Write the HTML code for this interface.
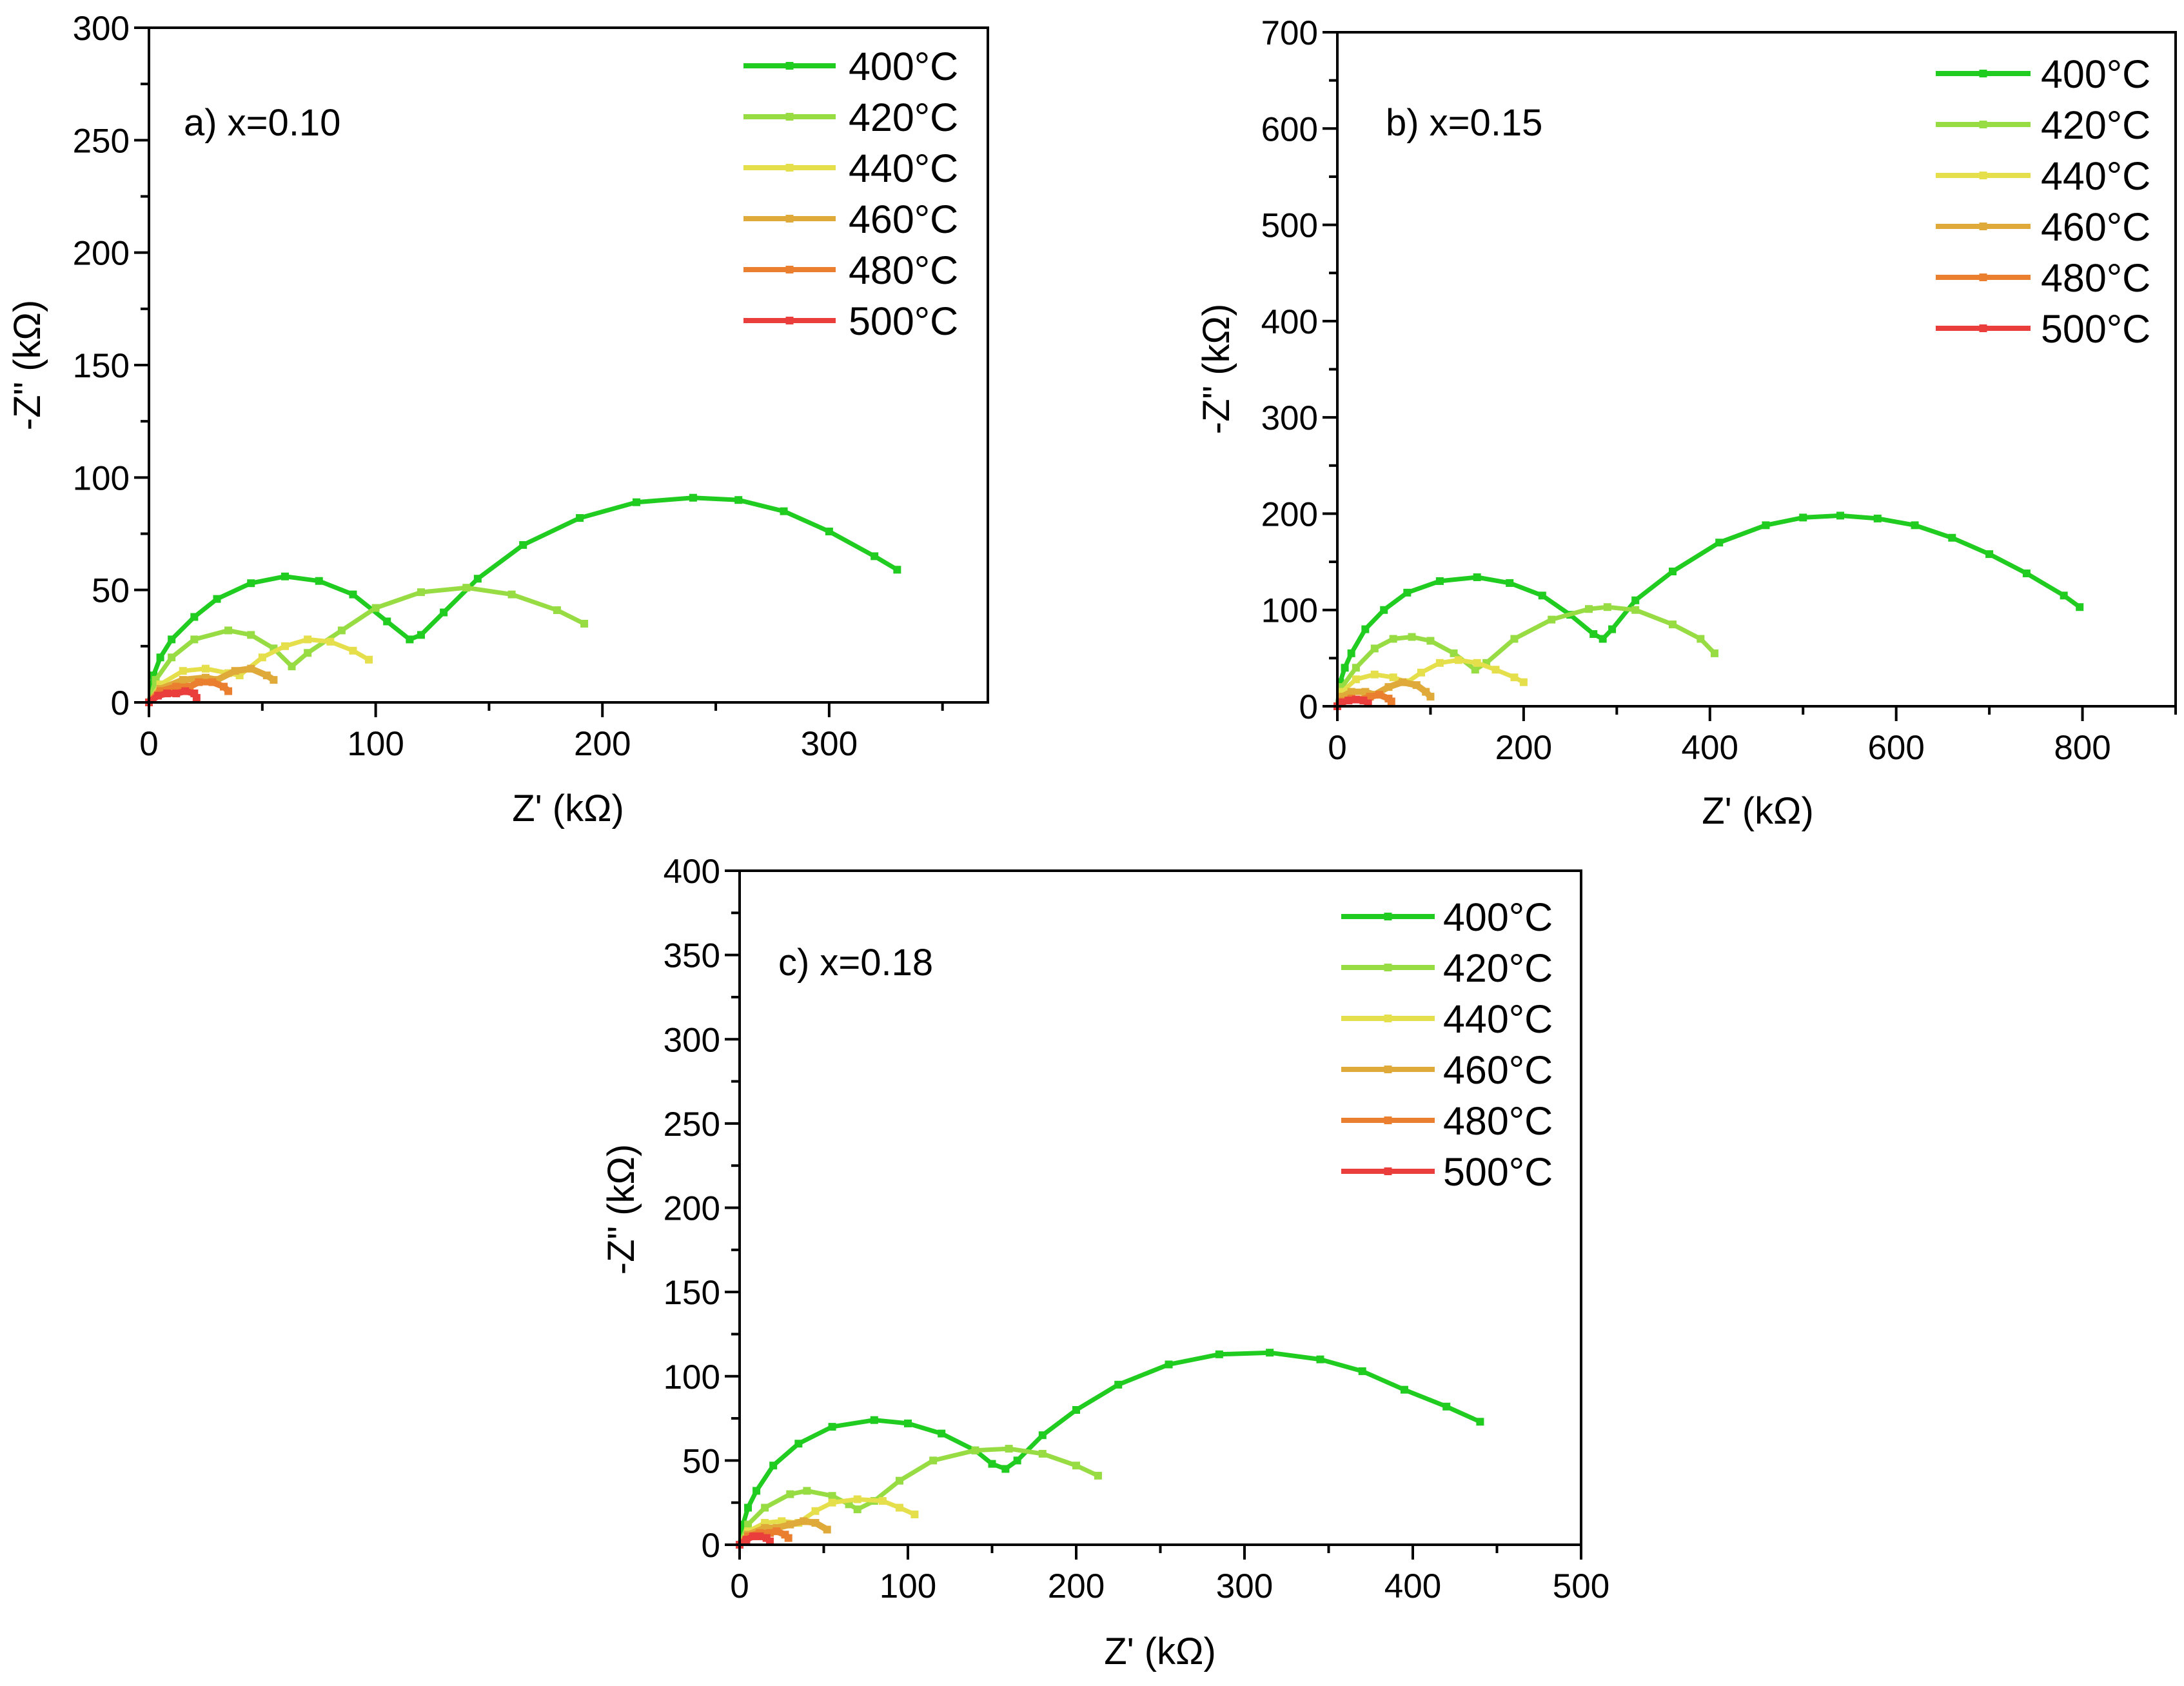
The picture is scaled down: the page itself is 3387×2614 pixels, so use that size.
<!DOCTYPE html>
<html><head><meta charset="utf-8">
<style>
html,body{margin:0;padding:0;background:#fff;}
svg{display:block;font-family:"Liberation Sans",Arial,sans-serif;}
</style></head>
<body>
<svg id="fig" width="3387" height="2614" viewBox="0 0 3387 2614" xmlns="http://www.w3.org/2000/svg"></svg>
<script>
const seriesLabels = ["400°C","420°C","440°C","460°C","480°C","500°C"];
const seriesColors = ["#1fcc1f","#98dc44","#e6df4c","#e0aa3a","#ea7f30","#ea3e3c"];

// Panel a) x=0.10
const a400x=[0,2,5,10,20,30,45,60,75,90,105,115,120,130,145,165,190,215,240,260,280,300,320,330];
const a400y=[0,12,20,28,38,46,53,56,54,48,36,28,30,40,55,70,82,89,91,90,85,76,65,59];
const a420x=[0,3,10,20,35,45,55,63,70,85,100,120,140,160,180,192];
const a420y=[0,10,20,28,32,30,24,16,22,32,42,49,51,48,41,35];
const a440x=[0,5,15,25,35,40,50,60,70,80,90,97];
const a440y=[0,8,14,15,13,12,20,25,28,27,23,19];
const a460x=[0,5,15,25,30,38,45,52,55];
const a460y=[0,6,10,11,10,14,15,12,10];
const a480x=[0,5,12,18,22,28,33,35];
const a480y=[0,5,7,7,9,9,7,5];
const a500x=[0,4,8,12,16,20,21];
const a500y=[0,3,4,4,5,4,2];

// Panel b) x=0.15
const b400x=[0,3,8,15,30,50,75,110,150,185,220,250,275,285,295,320,360,410,460,500,540,580,620,660,700,740,780,797];
const b400y=[0,25,40,55,80,100,118,130,134,128,115,95,75,70,80,110,140,170,188,196,198,195,188,175,158,138,115,103];
const b420x=[0,5,20,40,60,80,100,125,148,160,190,230,270,290,320,360,390,405];
const b420y=[0,20,40,60,70,72,68,55,38,45,70,90,101,103,100,85,70,55];
const b440x=[0,5,20,40,60,75,90,110,130,150,170,190,200];
const b440y=[0,15,28,33,30,25,35,45,48,45,38,30,25];
const b460x=[0,5,15,30,40,55,70,85,95,100];
const b460y=[0,10,15,15,12,20,25,22,15,10];
const b480x=[0,5,15,25,35,45,55,58];
const b480y=[0,5,8,7,10,12,8,5];
const b500x=[0,5,12,20,28,33];
const b500y=[0,4,6,7,6,3];

// Panel c) x=0.18
const c400x=[0,2,5,10,20,35,55,80,100,120,140,150,158,165,180,200,225,255,285,315,345,370,395,420,440];
const c400y=[0,12,22,32,47,60,70,74,72,66,56,48,45,50,65,80,95,107,113,114,110,103,92,82,73];
const c420x=[0,5,15,30,40,55,65,70,80,95,115,140,160,180,200,213];
const c420y=[0,12,22,30,32,29,24,21,26,38,50,56,57,54,47,41];
const c440x=[0,5,15,25,35,45,55,70,85,95,104];
const c440y=[0,8,13,14,13,20,25,27,26,22,18];
const c460x=[0,5,15,22,30,38,45,52];
const c460y=[0,6,10,10,12,14,13,9];
const c480x=[0,5,12,18,22,27,29];
const c480y=[0,5,7,7,8,6,4];
const c500x=[0,4,8,12,16,18];
const c500y=[0,3,5,5,4,2];

const aXTicks=[0,100,200,300], aYTicks=[0,50,100,150,200,250,300];
const bXTicks=[0,200,400,600,800], bYTicks=[0,100,200,300,400,500,600,700];
const cXTicks=[0,100,200,300,400,500], cYTicks=[0,50,100,150,200,250,300,350,400];

const NS="http://www.w3.org/2000/svg";
const svg=document.getElementById('fig');
function mk(tag,attrs,parent){const e=document.createElementNS(NS,tag);for(const k in attrs)e.setAttribute(k,attrs[k]);(parent||svg).appendChild(e);return e;}

const panels=[
 {id:'a',label:'a) x=0.10',L:231,R:1532,T:43,B:1089,xmax:370,ymax:300,xt:aXTicks,yt:aYTicks,xminor:50,yminor:25,
  xs:[a400x,a420x,a440x,a460x,a480x,a500x],ys:[a400y,a420y,a440y,a460y,a480y,a500y],
  lab:[285,190],xtitle:[881,1253],ytitle:[42,566],leg:[1153,1296,102,1316]},
 {id:'b',label:'b) x=0.15',L:2074,R:3374,T:50,B:1095,xmax:900,ymax:700,xt:bXTicks,yt:bYTicks,xminor:100,yminor:50,
  xs:[b400x,b420x,b440x,b460x,b480x,b500x],ys:[b400y,b420y,b440y,b460y,b480y,b500y],
  lab:[2149,190],xtitle:[2726,1257],ytitle:[1886,572],leg:[3002,3149,114,3165]},
 {id:'c',label:'c) x=0.18',L:1147,R:2452,T:1350,B:2395,xmax:500,ymax:400,xt:cXTicks,yt:cYTicks,xminor:50,yminor:25,
  xs:[c400x,c420x,c440x,c460x,c480x,c500x],ys:[c400y,c420y,c440y,c460y,c480y,c500y],
  lab:[1207,1492],xtitle:[1799,2560],ytitle:[963,1875],leg:[2080,2225,1421,2238]}
];

panels.forEach(p=>{
  const g=mk('g',{});
  
  
  const X=v=>p.L+(p.R-p.L)*v/p.xmax;
  const Y=v=>p.B-(p.B-p.T)*v/p.ymax;
  p.xs.forEach((xa,i)=>{
    const ya=p.ys[i];
    const pts=xa.map((x,j)=>X(x).toFixed(1)+','+Y(ya[j]).toFixed(1)).join(' ');
    const pl=mk('polyline',{points:pts,fill:'none',stroke:seriesColors[i],'stroke-width':i>=3?10:7,'stroke-linejoin':'round'},g);
    
    
    xa.forEach((x,j)=>{
      const r=mk('rect',{x:X(x)-6,y:Y(ya[j])-6,width:12,height:12,fill:seriesColors[i]},g);
      
      
    });
  });
  const fr=mk('rect',{x:p.L,y:p.T,width:p.R-p.L,height:p.B-p.T,fill:'none',stroke:'#000','stroke-width':4},g);
  
  
  for(let v=0;v<=p.xmax+0.001;v+=p.xminor){
    const major=p.xt.indexOf(v)>=0;
    mk('line',{x1:X(v),x2:X(v),y1:p.B,y2:p.B+(major?23:13),stroke:'#000','stroke-width':4},g);
  }
  p.xt.forEach(v=>{
    const t=mk('text',{x:X(v),y:p.B+82,'font-size':53,'text-anchor':'middle',fill:'#000'},g);
    t.textContent=v;
    
    
  });
  for(let v=0;v<=p.ymax+0.001;v+=p.yminor){
    const major=p.yt.indexOf(v)>=0;
    mk('line',{x1:p.L,x2:p.L-(major?23:13),y1:Y(v),y2:Y(v),stroke:'#000','stroke-width':4},g);
  }
  p.yt.forEach(v=>{
    const t=mk('text',{x:p.L-30,y:Y(v)+19,'font-size':53,'text-anchor':'end',fill:'#000'},g);
    t.textContent=v;
    
    
  });
  const xt=mk('text',{x:p.xtitle[0],y:p.xtitle[1]+20,'font-size':58,'text-anchor':'middle',fill:'#000'},g);
  xt.textContent="Z' (kΩ)";
  
  
  const yt=mk('text',{x:0,y:0,'font-size':58,'text-anchor':'middle',fill:'#000',transform:`translate(${p.ytitle[0]+20},${p.ytitle[1]}) rotate(-90)`},g);
  yt.textContent='-Z" (kΩ)';
  
  
  const pl=mk('text',{x:p.lab[0],y:p.lab[1]+20,'font-size':58,fill:'#000'},g);
  pl.textContent=p.label;
  
  
  seriesLabels.forEach((s,i)=>{
    const y=p.leg[2]+i*79;
    const ln=mk('line',{x1:p.leg[0],x2:p.leg[1],y1:y,y2:y,stroke:seriesColors[i],'stroke-width':8},g);
    
    
    mk('rect',{x:(p.leg[0]+p.leg[1])/2-6,y:y-6,width:12,height:12,fill:seriesColors[i]},g);
    const t=mk('text',{x:p.leg[3],y:y+22,'font-size':61,fill:'#000'},g);
    t.textContent=s;
    
    
  });
});
</script>
</body></html>
